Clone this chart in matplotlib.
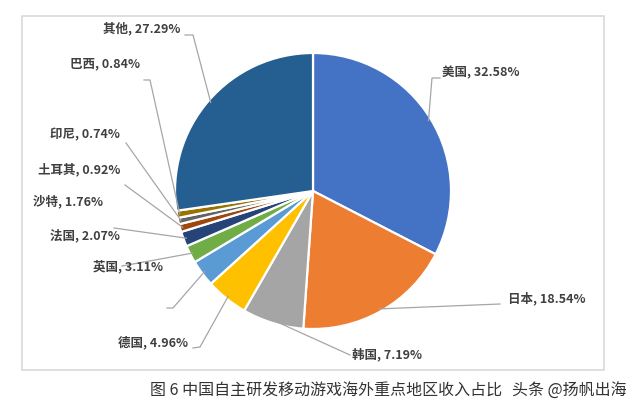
import numpy as np
import matplotlib
matplotlib.use("Agg")
import matplotlib.pyplot as plt
from matplotlib.patches import Rectangle

plt.rcParams['font.family'] = ['Noto Sans CJK SC', 'DejaVu Sans']

# data, clockwise from 12 o'clock
regions = ["美国", "日本", "韩国", "德国", "英国", "法国", "沙特", "土耳其", "印尼", "巴西", "其他"]
shares = [32.58, 18.54, 7.19, 4.96, 3.11, 2.07, 1.76, 0.92, 0.74, 0.84, 27.29]
colors = ["#4472C4", "#ED7D31", "#A5A5A5", "#FFC000", "#5B9BD5", "#70AD47",
          "#264478", "#9E480E", "#636363", "#997300", "#255E91"]
caption = "图 6 中国自主研发移动游戏海外重点地区收入占比"
watermark = "头条 @扬帆出海"

W, H = 640, 411
# layout in image pixels (y measured from top)
cx, cy, radius = 313, 191, 138
label_pos = {
    "美国": (442, 73), "日本": (508, 299), "韩国": (352, 355), "德国": (118, 343),
    "英国": (93, 267), "法国": (50, 236), "沙特": (33, 202), "土耳其": (38, 170),
    "印尼": (50, 135), "巴西": (70, 64), "其他": (103, 29),
}
# leader line start points (image pixels)
leader_start = {
    "美国": [(440, 78), (432, 78)], "日本": [(500, 304)], "韩国": [(350, 355)],
    "德国": [(193, 348), (200, 347)], "英国": [(167, 308), (173, 308)],
    "法国": [(122, 266)], "沙特": [(114, 228)], "土耳其": [(125, 185)],
    "印尼": [(126, 143)], "巴西": [(144, 80), (150, 80)], "其他": [(185, 35), (193, 35)],
}


def fy(y):
    return H - y


fig = plt.figure(figsize=(W / 100, H / 100), dpi=100)
ax = fig.add_axes([0, 0, 1, 1])

ax.add_patch(Rectangle((22, fy(370)), 582, 354, fill=False, edgecolor="#D9D9D9", linewidth=1.2))

wedges, _ = ax.pie(shares, colors=colors, startangle=90, counterclock=False,
                   center=(cx, fy(cy)), radius=radius, frame=True,
                   wedgeprops=dict(edgecolor="white", linewidth=1.6))

for w, name, val in zip(wedges, regions, shares):
    mid = np.deg2rad((w.theta1 + w.theta2) / 2)
    px = cx + radius * 0.98 * np.cos(mid)
    py = fy(cy) + radius * 0.98 * np.sin(mid)
    pts = [(x, fy(y)) for x, y in leader_start[name]] + [(px, py)]
    xs, ys = zip(*pts)
    ax.plot(xs, ys, color="#A6A6A6", linewidth=0.9, zorder=1)
    tx, ty = label_pos[name]
    ax.text(tx, fy(ty), f"{name}, {val:.2f}%", ha="left", va="center",
            fontsize=9, color="#404040", fontweight="bold", zorder=3)

ax.text(150, fy(391), caption, ha="left", va="center", fontsize=11.5, color="#333333")
ax.text(512, fy(391), watermark, ha="left", va="center", fontsize=11.5, color="#333333")

ax.set_xlim(0, W)
ax.set_ylim(0, H)
ax.set_aspect("equal")
ax.axis("off")

fig.savefig("out.png", dpi=100)
